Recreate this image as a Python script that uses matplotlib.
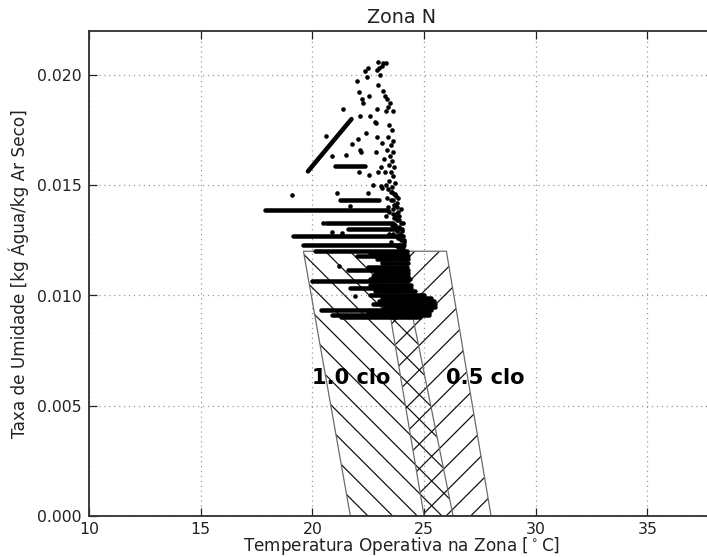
import numpy as np
import matplotlib
matplotlib.use("Agg")
import matplotlib.pyplot as plt
from matplotlib.patches import Polygon

# comfort zone corners: operative temperature [C] / humidity ratio [kg/kg]
clo10_t = [19.6, 23.9, 26.3, 21.7]
clo10_w = [0.012, 0.012, 0.0, 0.0]
clo05_t = [23.0, 26.0, 28.0, 25.0]
clo05_w = [0.012, 0.012, 0.0, 0.0]

# runs of hours sitting at one humidity ratio (w, t start, t end)
run_w = [0.01585, 0.01433, 0.01388, 0.01330, 0.01300, 0.01267, 0.01229,
         0.01203, 0.01190, 0.01179, 0.01165, 0.01147, 0.01130, 0.01116,
         0.01100, 0.01088, 0.01075, 0.01063, 0.01048, 0.01034, 0.01018,
         0.01002, 0.00988, 0.00975, 0.00960, 0.00948, 0.00934, 0.00922,
         0.00912, 0.00900]
run_t0 = [21.0, 21.25, 17.9, 20.6, 21.6, 19.15, 19.6,
          20.1, 22.6, 22.0, 22.9, 23.1, 22.5, 21.6,
          22.8, 22.7, 22.6, 20.0, 22.6, 21.7, 22.8,
          22.6, 23.1, 23.0, 22.7, 23.2, 20.4, 22.5,
          20.9, 21.3]
run_t1 = [22.35, 23.0, 23.4, 23.6, 23.8, 24.0, 24.1,
          24.25, 24.25, 24.3, 24.3, 24.3, 24.25, 24.3,
          24.3, 24.3, 24.35, 24.3, 24.4, 24.4, 24.6,
          25.0, 25.3, 25.45, 25.5, 25.5, 25.3, 25.2,
          25.2, 24.8]

# sloped run of hours
slope_t = [19.8, 21.75]
slope_w = [0.01562, 0.01799]

# isolated hours
pt_t = [22.96, 23.18, 23.30, 23.11, 23.00, 22.88, 22.51, 22.36, 22.44, 23.03,
        22.96, 21.99, 22.09, 22.55, 22.21, 22.26, 23.18, 23.26, 23.36, 23.48,
        23.40, 23.30, 23.63, 22.91, 22.14, 22.58, 22.81, 22.84,
        22.40, 22.06, 21.76, 22.14, 22.17, 21.50, 20.87, 22.84, 22.88, 23.11,
        22.55, 22.94, 23.08, 22.10, 22.73, 23.06, 23.11, 21.09, 22.50, 21.69,
        20.49, 20.87, 21.32, 19.08, 21.21, 21.91, 20.61, 21.36,
        23.45, 23.55, 23.40, 23.60, 23.50, 23.35, 23.62, 23.48, 23.56, 23.42,
        23.66, 23.52, 23.60, 23.45, 23.70, 23.58, 23.50,
        23.65, 23.75, 23.60, 23.80, 23.70, 23.62, 23.85, 23.74, 23.90, 23.66,
        23.80, 23.95, 23.72, 23.88, 24.00, 23.78, 23.93, 24.05, 23.84, 23.98,
        24.10, 23.90, 24.05,
        23.30, 23.35, 23.40, 23.30, 23.45, 23.20, 23.25,
        23.40, 23.55, 23.70, 23.85, 23.50, 23.65, 23.80, 23.95, 23.45, 23.60,
        23.75, 23.90, 24.05, 23.55, 23.70, 23.85, 24.00, 23.60, 23.75, 23.90,
        24.08, 23.50, 23.68, 23.82, 23.97, 24.12]
pt_w = [0.02056, 0.02053, 0.02053, 0.02038, 0.02030, 0.02023, 0.02030, 0.02015, 0.01992, 0.02000,
        0.01955, 0.01970, 0.01922, 0.01905, 0.01890, 0.01874, 0.01925, 0.01905, 0.01890, 0.01872,
        0.01856, 0.01834, 0.01834, 0.01846, 0.01811, 0.01811, 0.01788, 0.01781,
        0.01737, 0.01710, 0.01687, 0.01657, 0.01650, 0.01637, 0.01633, 0.01648, 0.01717, 0.01690,
        0.01546, 0.01560, 0.01580, 0.01561, 0.01501, 0.01497, 0.01486, 0.01466, 0.01464, 0.01403,
        0.01327, 0.01287, 0.01282, 0.01453, 0.01131, 0.00999, 0.01723, 0.01846,
        0.0177, 0.0175, 0.0172, 0.0170, 0.0168, 0.0166, 0.0165, 0.0163, 0.0161, 0.0159,
        0.0158, 0.0156, 0.0154, 0.0152, 0.0151, 0.0149, 0.0147,
        0.0146, 0.0145, 0.0143, 0.0142, 0.0141, 0.0139, 0.0138, 0.0137, 0.0136, 0.0135,
        0.0134, 0.0133, 0.0132, 0.0131, 0.0130, 0.0129, 0.0128, 0.0127, 0.0126, 0.0125,
        0.0124, 0.0123, 0.0122,
        0.0150, 0.0144, 0.0140, 0.0136, 0.0128, 0.0162, 0.0156,
        0.0148, 0.0147, 0.0146, 0.0144, 0.0143, 0.0141, 0.0140, 0.0139, 0.0138, 0.0137,
        0.0136, 0.0134, 0.0133, 0.0132, 0.0131, 0.0130, 0.0129, 0.0128, 0.0127, 0.0126,
        0.0125, 0.0124, 0.0123, 0.0122, 0.0121, 0.0120]

DPI = 148
plt.rcParams['hatch.linewidth'] = 0.6
plt.rcParams['font.family'] = 'DejaVu Sans'
plt.rcParams['mathtext.fontset'] = 'dejavusans'

fig = plt.figure(figsize=(707.4 / DPI, 557.4 / DPI), dpi=DPI, facecolor='white')
ax = fig.add_axes([89 / 707, 41 / 557, 625 / 707, 485 / 557])

# comfort zones: hatch drawn first, thin grey outline on top
for zt, zw, hatch in [(clo10_t, clo10_w, '\\\\'), (clo05_t, clo05_w, '//')]:
    xy = np.column_stack([zt, zw])
    ax.add_patch(Polygon(xy, closed=True, fill=False, hatch=hatch,
                         edgecolor='#111111', lw=0, zorder=1))
    ax.add_patch(Polygon(xy, closed=True, fill=False,
                         edgecolor='#6a6a6a', lw=0.6, zorder=1.5))

ax.hlines(run_w, run_t0, run_t1, colors='k', lw=2.2, capstyle='round', zorder=3)
ax.plot(slope_t, slope_w, color='k', lw=2.2, solid_capstyle='round', zorder=3)
ax.scatter(pt_t, pt_w, s=5, c='k', lw=0, zorder=3)

ax.text(20.0, 0.006, '1.0 clo', fontsize=10.2, fontweight='bold', va='baseline', zorder=4)
ax.text(26.0, 0.006, '0.5 clo', fontsize=10.2, fontweight='bold', va='baseline', zorder=4)

ax.set_xlim(10, 38)
ax.set_ylim(0, 0.022)
ax.set_xticks([10, 15, 20, 25, 30, 35])
ax.set_yticks([0.0, 0.005, 0.010, 0.015, 0.020])
ax.yaxis.set_major_formatter(plt.FormatStrFormatter('%.3f'))

ax.grid(True, color='#999999', linestyle=(0, (1, 3)), lw=0.6)
ax.set_axisbelow(True)
ax.tick_params(direction='in', top=True, right=True, length=3.7, width=0.6,
               labelsize=7.7, pad=3.5, colors='#222222')
ax.tick_params(axis='x', pad=2.6)
for s in ax.spines.values():
    s.set_linewidth(0.9)
    s.set_color('#333333')

ax.set_title('Zona N', fontsize=9.3, pad=4, color='#222222')
ax.set_xlabel(r'Temperatura Operativa na Zona [$^\circ$C]', fontsize=8.2, labelpad=-0.6,
              color='#222222')
ax.set_ylabel('Taxa de Umidade [kg Água/kg Ar Seco]', fontsize=8.2, labelpad=4,
              color='#222222')

fig.savefig('out.png', dpi=DPI, facecolor='white')
